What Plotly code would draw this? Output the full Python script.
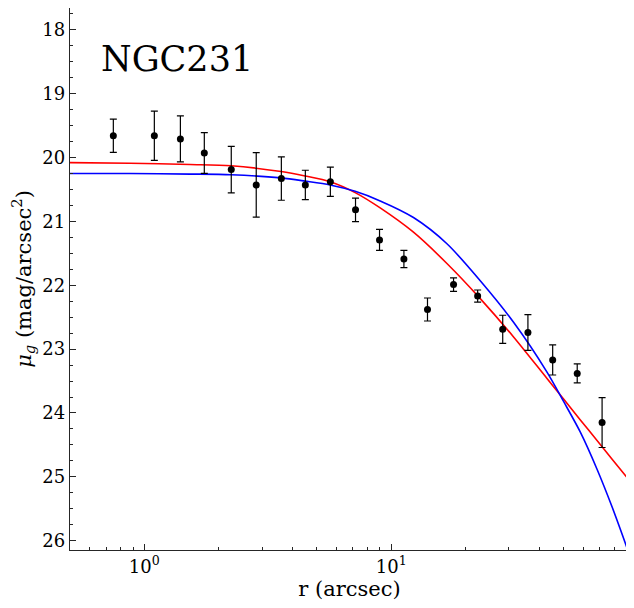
import numpy as np
import plotly.graph_objects as go

r_obs = [0.749, 1.098, 1.40, 1.75, 2.25, 2.84, 3.59, 4.49, 5.67, 7.17,
         8.97, 11.26, 14.03, 17.89, 22.4, 28.3, 35.8, 45.1, 56.7, 71.5]
mu_obs = [19.66, 19.66, 19.71, 19.93, 20.19, 20.43, 20.33, 20.43, 20.38, 20.82,
          21.29, 21.59, 22.38, 21.99, 22.17, 22.69, 22.74, 23.17, 23.38, 24.15]
mu_err = [0.26, 0.385, 0.36, 0.32, 0.365, 0.505, 0.34, 0.23, 0.23, 0.185,
          0.165, 0.135, 0.18, 0.105, 0.095, 0.22, 0.28, 0.235, 0.15, 0.39]

# model curves, sampled by eye along each line
r_model = [0.500, 0.875, 1.532, 2.246, 3.583, 4.481, 5.657, 7.146, 9.025,
           12.31, 16.82, 22.95, 31.31, 42.77, 49.93, 58.37, 68.21, 78.66, 91.93]
mu_blue = [20.25, 20.252, 20.26, 20.27, 20.32, 20.37, 20.43, 20.53, 20.68,
           20.94, 21.35, 21.93, 22.58, 23.36, 23.82, 24.30, 24.88, 25.48, 26.20]
mu_red = [20.08, 20.09, 20.11, 20.13, 20.22, 20.29, 20.38, 20.55, 20.79,
          21.17, 21.66, 22.21, 22.81, 23.46, 23.78, 24.11, 24.43, 24.73, 25.05]

x_major = [1, 10]
x_major_text = ["10<sup>0</sup>", "10<sup>1</sup>"]
x_minor = [0.6, 0.7, 0.8, 0.9, 2, 3, 4, 5, 6, 7, 8, 9,
           20, 30, 40, 50, 60, 70, 80, 90]

font_serif = "DejaVu Serif"
axcol = "#262626"

fig = go.Figure()
fig.add_trace(go.Scatter(x=r_model, y=mu_red, mode="lines",
                         line=dict(color="red", width=1.6, shape="spline", smoothing=0.8),
                         showlegend=False))
fig.add_trace(go.Scatter(x=r_model, y=mu_blue, mode="lines",
                         line=dict(color="blue", width=1.6, shape="spline", smoothing=0.8),
                         showlegend=False))
fig.add_trace(go.Scatter(x=r_obs, y=mu_obs, mode="markers",
                         marker=dict(color="black", size=7),
                         error_y=dict(type="data", array=mu_err, color="black",
                                      thickness=1.2, width=3.5),
                         showlegend=False))

fig.add_annotation(text="NGC231", xref="paper", yref="paper", x=0.052, y=0.905,
                   xanchor="left", yanchor="middle", showarrow=False,
                   font=dict(family=font_serif, size=35, color="black"))

fig.update_xaxes(type="log", range=[np.log10(0.5), np.log10(91.9)],
                 tickmode="array", tickvals=x_major, ticktext=x_major_text,
                 ticks="inside", ticklen=6, tickwidth=1.1, tickcolor=axcol,
                 minor=dict(tickmode="array", tickvals=x_minor, ticks="inside",
                            ticklen=3, tickwidth=0.9, tickcolor=axcol),
                 showline=True, linecolor=axcol, linewidth=1.3, mirror=True,
                 showgrid=False, zeroline=False,
                 tickfont=dict(family=font_serif, size=18, color="black"),
                 title=dict(text="r (arcsec)", standoff=4,
                            font=dict(family=font_serif, size=21, color="black")))
fig.update_yaxes(range=[26.145, 17.66], dtick=1, tick0=18,
                 ticks="inside", ticklen=6, tickwidth=1.1, tickcolor=axcol,
                 minor=dict(dtick=0.25, ticks="inside", ticklen=3,
                            tickwidth=0.9, tickcolor=axcol),
                 showline=True, linecolor=axcol, linewidth=1.3, mirror=True,
                 showgrid=False, zeroline=False,
                 tickfont=dict(family=font_serif, size=18, color="black"),
                 title=dict(text="<i>μ</i><sub><i>g</i></sub> (mag/arcsec<sup>2</sup>)",
                            standoff=6,
                            font=dict(family=font_serif, size=21, color="black")))
# page has an 8px body margin, so the figure is shrunk to fit the window
fig.update_layout(width=626, height=600,
                  margin=dict(l=62, r=5, t=0, b=58),
                  plot_bgcolor="white", paper_bgcolor="white")

fig.write_html("out.html")
